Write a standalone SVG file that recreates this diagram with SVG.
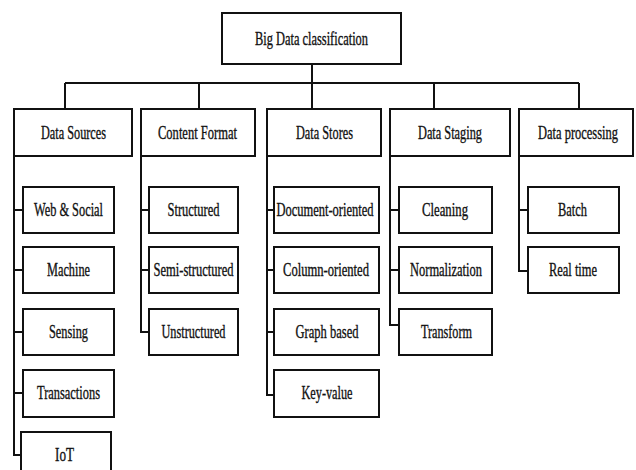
<svg xmlns="http://www.w3.org/2000/svg" width="636" height="470" viewBox="0 0 636 470">
<style>
rect{fill:#fff;stroke:#111;stroke-width:2}
.c{fill:none;stroke:#111;stroke-width:2}
text{font-family:"Liberation Serif","Times New Roman",serif;font-size:18.5px;fill:#111;stroke:#111;stroke-width:0.35;text-anchor:middle}
</style>
<rect x="0" y="0" width="636" height="470" style="stroke:none"/>
<g id="connectors" class="c">
<path d="M312 64V109M65 83H579M65 83V109M199 83V109M434 83V109M579 83V109"/>
<path d="M14 156V455H21M14 210H23M14 270H23M14 332H23M14 393H23"/>
<path d="M141 156V332H149M141 210H149M141 270H149"/>
<path d="M267 156V395H274M267 210H274M267 270H274M267 332H274"/>
<path d="M390 156V325H399M390 210H399M390 270H399"/>
<path d="M519 156V271H528M519 210H528"/>
</g>
<g id="root"><rect x="222" y="13" width="179" height="51"/><text x="311.5" y="45" textLength="113" lengthAdjust="spacingAndGlyphs">Big Data classification</text></g>
<g id="data-sources"><rect x="14" y="109" width="118" height="47"/><text x="73.5" y="139" textLength="65" lengthAdjust="spacingAndGlyphs">Data Sources</text></g>
<g id="content-format"><rect x="141" y="109" width="114" height="47"/><text x="197.5" y="139" textLength="79" lengthAdjust="spacingAndGlyphs">Content Format</text></g>
<g id="data-stores"><rect x="267" y="109" width="114" height="47"/><text x="324.5" y="139" textLength="57" lengthAdjust="spacingAndGlyphs">Data Stores</text></g>
<g id="data-staging"><rect x="390" y="109" width="120" height="47"/><text x="450" y="139" textLength="64" lengthAdjust="spacingAndGlyphs">Data Staging</text></g>
<g id="data-processing"><rect x="519" y="109" width="114" height="47"/><text transform="translate(578 139) scale(0.675 1)">Data processing</text></g>
<g id="web-social"><rect x="23" y="187" width="91" height="46"/><text x="68.5" y="216" textLength="69" lengthAdjust="spacingAndGlyphs">Web &amp; Social</text></g>
<g id="machine"><rect x="23" y="247" width="91" height="46"/><text x="68.5" y="276" textLength="43" lengthAdjust="spacingAndGlyphs">Machine</text></g>
<g id="sensing"><rect x="23" y="309" width="91" height="46"/><text x="68.5" y="338" textLength="39" lengthAdjust="spacingAndGlyphs">Sensing</text></g>
<g id="transactions"><rect x="23" y="370" width="91" height="47"/><text x="68.5" y="399" textLength="63" lengthAdjust="spacingAndGlyphs">Transactions</text></g>
<g id="iot"><rect x="21" y="432" width="90" height="50"/><text x="64.5" y="461" textLength="19" lengthAdjust="spacingAndGlyphs">IoT</text></g>
<g id="structured"><rect x="149" y="187" width="89" height="46"/><text x="193.5" y="216" textLength="52" lengthAdjust="spacingAndGlyphs">Structured</text></g>
<g id="semi-structured"><rect x="149" y="247" width="89" height="46"/><text x="193.5" y="276" textLength="80" lengthAdjust="spacingAndGlyphs">Semi-structured</text></g>
<g id="unstructured"><rect x="149" y="309" width="89" height="46"/><text x="193.5" y="338" textLength="64" lengthAdjust="spacingAndGlyphs">Unstructured</text></g>
<g id="document-oriented"><rect x="274" y="187" width="105" height="46"/><text x="325" y="216" textLength="97" lengthAdjust="spacingAndGlyphs">Document-oriented</text></g>
<g id="column-oriented"><rect x="274" y="247" width="105" height="46"/><text x="326" y="276" textLength="86" lengthAdjust="spacingAndGlyphs">Column-oriented</text></g>
<g id="graph-based"><rect x="274" y="309" width="105" height="46"/><text x="327" y="338" textLength="63" lengthAdjust="spacingAndGlyphs">Graph based</text></g>
<g id="key-value"><rect x="274" y="370" width="105" height="47"/><text x="327" y="399" textLength="51" lengthAdjust="spacingAndGlyphs">Key-value</text></g>
<g id="cleaning"><rect x="399" y="187" width="93" height="46"/><text x="445" y="216" textLength="46" lengthAdjust="spacingAndGlyphs">Cleaning</text></g>
<g id="normalization"><rect x="399" y="247" width="93" height="46"/><text x="446" y="276" textLength="72" lengthAdjust="spacingAndGlyphs">Normalization</text></g>
<g id="transform"><rect x="399" y="309" width="93" height="46"/><text x="446.5" y="338" textLength="51" lengthAdjust="spacingAndGlyphs">Transform</text></g>
<g id="batch"><rect x="528" y="187" width="91" height="46"/><text x="572.5" y="216" textLength="29" lengthAdjust="spacingAndGlyphs">Batch</text></g>
<g id="real-time"><rect x="528" y="247" width="91" height="46"/><text x="573" y="276" textLength="48" lengthAdjust="spacingAndGlyphs">Real time</text></g>
</svg>
